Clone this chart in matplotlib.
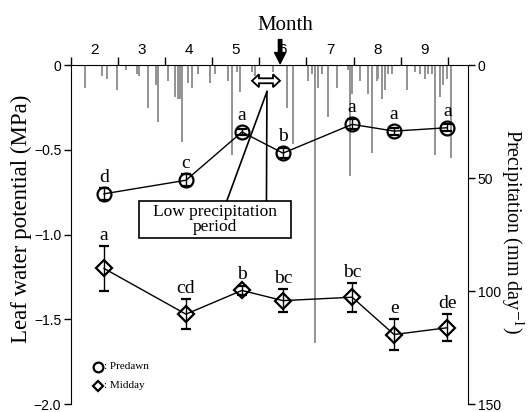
import numpy as np
import matplotlib.pyplot as plt
from matplotlib.patches import Rectangle, Polygon
import matplotlib.transforms as mtransforms

plt.rcParams['font.family'] = 'Liberation Serif'
plt.rcParams['mathtext.fontset'] = 'stix'

# sampling dates (month + fraction of month)
dates = [2.70, 4.44, 5.63, 6.50, 7.97, 8.86, 9.99]

predawn = [-0.76, -0.68, -0.395, -0.52, -0.35, -0.39, -0.37]
predawn_err = [0.035, 0.035, 0.02, 0.03, 0.03, 0.02, 0.02]
predawn_letters = ['d', 'c', 'a', 'b', 'a', 'a', 'a']

midday = [-1.20, -1.47, -1.33, -1.39, -1.37, -1.59, -1.55]
midday_err = [0.135, 0.09, 0.025, 0.07, 0.085, 0.09, 0.08]
midday_letters = ['a', 'cd', 'b', 'bc', 'bc', 'e', 'de']

# daily precipitation (day as month + fraction, mm/day)
rain_day = [2.30, 2.66, 2.76, 2.98, 3.17, 3.40, 3.44, 3.63, 3.80, 3.85,
            4.06, 4.21, 4.27, 4.31, 4.36, 4.48, 4.57, 4.70, 4.95, 5.06,
            5.33, 5.42, 5.52, 5.59, 5.84, 5.91, 6.29, 6.59, 6.71, 7.03,
            7.12, 7.18, 7.24, 7.33, 7.46, 7.65, 7.88, 7.92, 7.97, 8.14,
            8.31, 8.39, 8.50, 8.52, 8.60, 8.67, 8.73, 8.82, 9.13, 9.30,
            9.41, 9.52, 9.58, 9.66, 9.73, 9.83, 9.90, 9.98, 10.07]
rain_mm = [10, 5, 6, 11, 2, 4, 5, 19, 9, 25,
           7, 14, 15, 15, 34, 8, 10, 4, 8, 4,
           7, 40, 3, 12, 3, 5, 3, 19, 35, 7,
           4, 123, 10, 4, 23, 10, 2, 49, 13, 7,
           13, 39, 7, 6, 15, 11, 4, 4, 11, 3,
           4, 6, 4, 4, 40, 14, 9, 6, 41]

month_labels = ['2', '3', '4', '5', '6', '7', '8', '9']

fig = plt.figure(figsize=(5.28, 4.12), dpi=100)
ax = fig.add_axes([0.1345, 0.0194, 0.7519, 0.8228])
ax2 = ax.twinx()
ax.set_zorder(ax2.get_zorder() + 1)
ax.patch.set_visible(False)

# precipitation bars hanging from the top
ax2.bar(rain_day, rain_mm, width=0.042, color='#959595', linewidth=0)
ax2.set_ylim(150, 0)
ax2.set_yticks([0, 50, 100, 150])
ax2.tick_params(axis='y', direction='out', length=5, width=1, labelsize=10, pad=2)
for lab in ax2.get_yticklabels():
    lab.set_fontfamily('Liberation Sans')
for s in ['top', 'bottom', 'left']:
    ax2.spines[s].set_visible(False)
ax2.set_ylabel('Precipitation (mm day$^{-1}$)', fontsize=14.5, rotation=270,
               va='center', ha='center')
ax2.yaxis.set_label_coords(1.112, 0.509)

# leaf water potential
ax.set_xlim(2, 10.43)
ax.set_ylim(-2.0, 0)
ax.spines['bottom'].set_visible(False)
ax.spines['right'].set_visible(False)
ax.xaxis.tick_top()
ax.set_xticks(np.arange(2, 11))
ax.set_xticklabels([])
ax.set_xticks(np.arange(2.5, 10, 1), minor=True)
ax.set_xticklabels(month_labels, minor=True, fontfamily='Liberation Sans', fontsize=11)
ax.tick_params(axis='x', which='major', direction='out', length=6, width=1)
ax.tick_params(axis='x', which='minor', length=0, pad=6)
ax.set_yticks([0, -0.5, -1.0, -1.5, -2.0])
ax.set_yticklabels(['0', '\u22120.5', '\u22121.0', '\u22121.5', '\u22122.0'],
                   fontfamily='Liberation Sans', fontsize=10)
ax.tick_params(axis='y', direction='out', length=5, width=1, pad=2)
ax.set_ylabel('Leaf water potential (MPa)', fontsize=16.5, va='center', ha='center')
ax.yaxis.set_label_coords(-0.125, 0.545)
ax.text(0.539, 1.117, 'Month', transform=ax.transAxes, ha='center', va='center',
        fontsize=15)

ax.errorbar(dates, predawn, yerr=predawn_err, fmt='-o', color='k', mfc='none',
            ms=10, mew=1.6, lw=1, elinewidth=1, capsize=3.5, capthick=1, zorder=5)
ax.errorbar(dates, midday, yerr=midday_err, fmt='-D', color='k', mfc='none',
            ms=8, mew=1.6, lw=1, elinewidth=1, capsize=3.5, capthick=1, zorder=5)

for x, y, e, t in zip(dates, predawn, predawn_err, predawn_letters):
    ax.text(x, y + max(e, 0.04) + 0.03, t, ha='center', va='baseline', fontsize=14)
for x, y, e, t in zip(dates, midday, midday_err, midday_letters):
    ax.text(x, y + max(e, 0.035) + 0.035, t, ha='center', va='baseline', fontsize=14)

# low precipitation period annotation
cx, cy = 6.14, -0.093
pts = np.array([(-14, 0), (-7, 6.5), (-7, 2.5), (7, 2.5), (7, 6.5),
                (14, 0), (7, -6.5), (7, -2.5), (-7, -2.5), (-7, -6.5)], dtype=float)
pts[:, 0] = cx + pts[:, 0] / 47.1
pts[:, 1] = cy + pts[:, 1] / 171.0
ax.add_patch(Polygon(pts, closed=True, fc='white', ec='black', lw=1.3, zorder=6,
                     clip_on=False))
ax.plot([6.16, 5.31], [-0.157, -0.80], color='k', lw=1.2)
ax.plot([6.16, 6.15], [-0.157, -0.80], color='k', lw=1.2)
ax.add_patch(Rectangle((3.44, -1.023), 3.23, 0.223, fc='white', ec='black', lw=1.2,
                       zorder=4))
ax.text(5.06, -0.912, 'Low precipitation\nperiod', ha='center', va='center',
        fontsize=12.5, linespacing=0.95, zorder=7)

# arrow above the month axis
trans = mtransforms.blended_transform_factory(ax.transData, ax.transAxes)
ax.annotate('', xy=(6.44, 1.004), xytext=(6.44, 1.075), xycoords=trans,
            textcoords=trans,
            arrowprops=dict(facecolor='black', edgecolor='black', width=2.5,
                            headwidth=8, headlength=8, shrink=0))

# legend
ax.plot([0.068], [0.11], 'o', transform=ax.transAxes, mfc='none', mec='k',
        ms=7, mew=1.6, clip_on=False)
ax.plot([0.068], [0.054], 'D', transform=ax.transAxes, mfc='none', mec='k',
        ms=5.5, mew=1.6, clip_on=False)
ax.text(0.082, 0.11, ': Predawn', transform=ax.transAxes, va='center', fontsize=8)
ax.text(0.082, 0.054, ': Midday', transform=ax.transAxes, va='center', fontsize=8)

fig.savefig('out.png', dpi=100)
